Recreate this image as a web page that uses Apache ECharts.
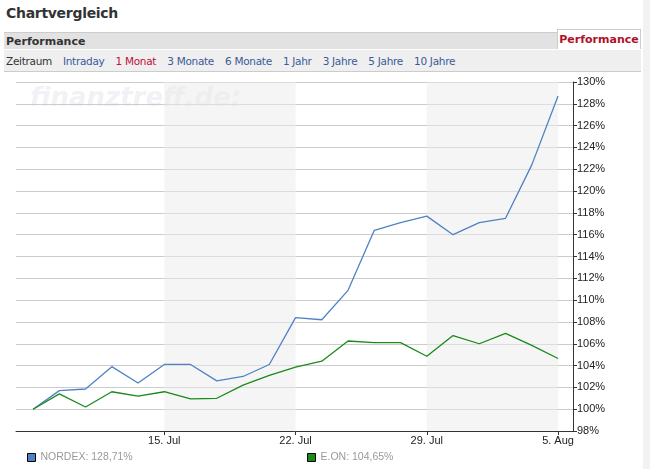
<!DOCTYPE html>
<html><head><meta charset="utf-8">
<script src="https://cdn.jsdelivr.net/npm/echarts@6/dist/echarts.min.js"></script>
<style>
body{margin:0;width:664px;height:469px;background:#fff;font-family:"DejaVu Sans",Verdana,sans-serif;position:relative;overflow:hidden}
#title{position:absolute;left:6px;top:5px;font-size:14px;font-weight:bold;color:#333;letter-spacing:-0.3px}
#bar{position:absolute;left:4px;top:32px;width:553px;height:17px;background:#e2e2e2;border-top:1px solid #ccc;font-size:11px;font-weight:bold;color:#333;line-height:17px;padding-left:2px;box-sizing:border-box}
#tab{position:absolute;left:557px;top:29px;width:84px;height:20px;border:1px solid #ccc;border-bottom:none;background:#fff;color:#b0102a;font-size:11px;font-weight:bold;line-height:20px;text-align:center;box-sizing:border-box}
#nav{position:absolute;left:4px;top:50px;width:637px;height:22px;background:#efefef;border-bottom:1px solid #ccc;font-size:10.5px;line-height:22px;box-sizing:border-box;letter-spacing:-0.3px}
#nav span{margin:0 6px 0 2px;color:#3a5a9a}
#strip{position:absolute;left:643px;top:0;width:7px;height:469px;background:#f2f2f2}
#main{position:absolute;left:0;top:0;width:664px;height:469px}
</style></head><body>
<div id="title">Chartvergleich</div>
<div id="bar">Performance</div>
<div id="tab">Performance</div>
<div id="nav"><span style="color:#333">Zeitraum</span> <span>Intraday</span> <span style="color:#c0103a">1 Monat</span> <span>3 Monate</span> <span>6 Monate</span> <span>1 Jahr</span> <span>3 Jahre</span> <span>5 Jahre</span> <span>10 Jahre</span></div>
<div id="strip"></div>
<div id="main"></div>
<script>
var tickLabels = {5: '15. Jul', 10: '22. Jul', 15: '29. Jul', 20: '5. Aug'};
var nordex = [100.0, 101.7, 101.85, 103.9, 102.4, 104.1, 104.1, 102.6, 103.0, 104.1, 108.4, 108.2, 110.9, 116.4, 117.1, 117.7, 116.0, 117.1, 117.5, 122.4, 128.71];
var eon = [100.0, 101.4, 100.2, 101.6, 101.2, 101.6, 100.95, 101.0, 102.2, 103.1, 103.85, 104.4, 106.25, 106.1, 106.1, 104.85, 106.75, 106.0, 106.95, 105.85, 104.65];
var bands = [[5, 10], [15, 20]];

function pts(arr) { return arr.map(function (v, i) { return [i, v]; }); }

var myChart = echarts.init(document.getElementById('main'));
myChart.setOption({
    animation: false,
    grid: {left: 16, right: 91, top: 82, bottom: 38},
    graphic: [{type: 'text', left: 30, top: 86, style: {text: 'finanztreff.de:', font: 'italic bold 26px "DejaVu Sans"', fill: 'rgba(210,210,225,0.3)'}}],
    legend: [
        {left: 22, top: 447, icon: 'rect', itemWidth: 8, itemHeight: 8, itemGap: 3, data: ['NORDEX'], itemStyle: {borderColor: '#000', borderWidth: 1},
         formatter: function () { return 'NORDEX: 128,71%'; }, textStyle: {color: '#999', fontSize: 10.5, fontFamily: 'Arial'}},
        {left: 302, top: 447, icon: 'rect', itemWidth: 8, itemHeight: 8, itemGap: 3, data: ['E.ON'], itemStyle: {borderColor: '#000', borderWidth: 1},
         formatter: function () { return 'E.ON: 104,65%'; }, textStyle: {color: '#999', fontSize: 10.5, fontFamily: 'Arial'}}
    ],
    xAxis: {type: 'value', min: -0.65, max: 20.57, interval: 5,
        axisLine: {onZero: false, lineStyle: {color: '#333'}}, axisTick: {show: true, customValues: [5, 10, 15, 20], length: 4, lineStyle: {color: '#333'}},
        axisLabel: {customValues: [5, 10, 15, 20], formatter: function (v) { return tickLabels[v] || ''; }, color: '#222', fontFamily: 'Arial', fontSize: 11, margin: 4},
        splitLine: {show: false}},
    yAxis: {type: 'value', position: 'right', min: 98, max: 130, interval: 2,
        axisLine: {show: true, onZero: false, lineStyle: {color: '#333'}}, axisTick: {show: true, length: 4, lineStyle: {color: '#333'}},
        axisLabel: {formatter: '{value}%', color: '#222', fontFamily: 'Arial', fontSize: 11, margin: 4},
        splitLine: {lineStyle: {color: '#ccc'}}},
    series: [
        {name: 'NORDEX', type: 'line', data: pts(nordex), symbol: 'none', lineStyle: {color: '#4f82c4', width: 1.3}, itemStyle: {color: '#4f82c4'},
         markArea: {silent: true, itemStyle: {color: 'rgba(235,235,235,0.5)'}, data: bands.map(function (b) { return [{xAxis: b[0]}, {xAxis: b[1]}]; })}},
        {name: 'E.ON', type: 'line', data: pts(eon), symbol: 'none', lineStyle: {color: '#1a8a1a', width: 1.3}, itemStyle: {color: '#1a8a1a'}}
    ]
});
</script>
</body></html>
